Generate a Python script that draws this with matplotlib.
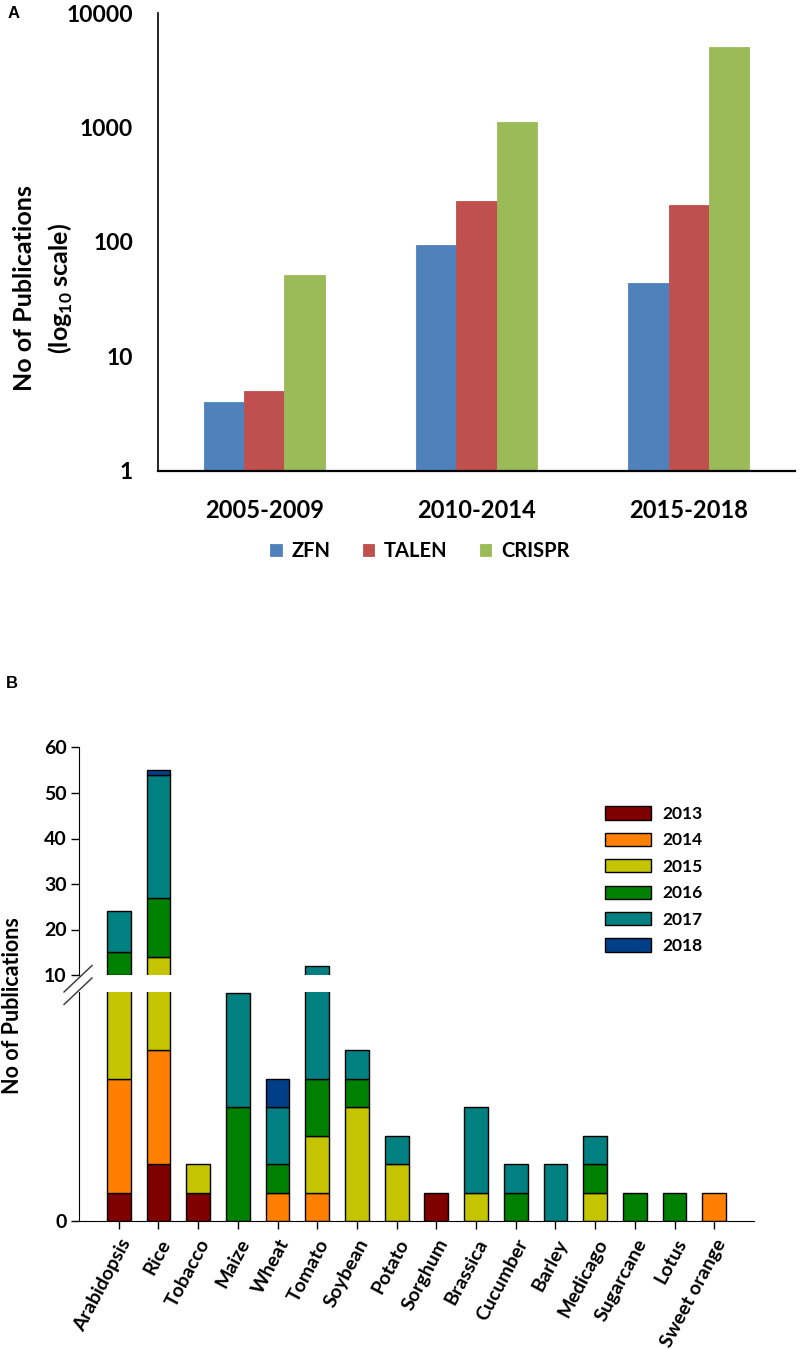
import matplotlib
matplotlib.use('Agg')
import matplotlib.pyplot as plt
from matplotlib.patches import Patch
from matplotlib.lines import Line2D
import numpy as np

plt.rcParams['font.family'] = ['Lato', 'DejaVu Sans']

# ---- panel A data
periods = ['2005-2009', '2010-2014', '2015-2018']
zfn = [4, 94, 44]
talen = [5, 229, 209]
crispr = [52, 1117, 5085]
methods = ['ZFN', 'TALEN', 'CRISPR']
method_colors = ['#4F81BD', '#C0504D', '#9BBB59']

# ---- panel B data
crops = ['Arabidopsis', 'Rice', 'Tobacco', 'Maize', 'Wheat', 'Tomato', 'Soybean', 'Potato',
         'Sorghum', 'Brassica', 'Cucumber', 'Barley', 'Medicago', 'Sugarcane', 'Lotus', 'Sweet orange']
years = ['2013', '2014', '2015', '2016', '2017', '2018']
y2013 = [1, 2, 1, 0, 0, 0, 0, 0, 1, 0, 0, 0, 0, 0, 0, 0]
y2014 = [4, 4, 0, 0, 1, 1, 0, 0, 0, 0, 0, 0, 0, 0, 0, 1]
y2015 = [5, 8, 1, 0, 0, 2, 4, 2, 0, 1, 0, 0, 1, 0, 0, 0]
y2016 = [5, 13, 0, 4, 1, 2, 1, 0, 0, 0, 1, 0, 1, 1, 1, 0]
y2017 = [9, 27, 0, 4, 2, 7, 1, 1, 0, 3, 1, 2, 1, 0, 0, 0]
y2018 = [0, 1, 0, 0, 1, 0, 0, 0, 0, 0, 0, 0, 0, 0, 0, 0]
year_colors = ['#800000', '#FF8000', '#C4C400', '#008000', '#008080', '#003F87']

W, H = 800, 1349
fig = plt.figure(figsize=(W / 100, H / 100), dpi=100)


def box(x0, y0, x1, y1):
    # pixel box (top-left origin) -> figure fraction rect
    return [x0 / W, 1 - y1 / H, (x1 - x0) / W, (y1 - y0) / H]


# ================= panel A
axA = fig.add_axes(box(158, 13, 795, 471))
x = np.arange(len(periods))
bw = 0.19
for i, (vals, c, lab) in enumerate(zip([zfn, talen, crispr], method_colors, methods)):
    axA.bar(x + (i - 1) * bw, vals, bw, color=c, edgecolor=c, linewidth=0.6, label=lab)
axA.set_yscale('log')
axA.set_ylim(1, 10000)
axA.set_xlim(-0.5, 2.5)
axA.set_yticks([1, 10, 100, 1000, 10000])
axA.set_yticklabels(['1', '10', '100', '1000', '10000'])
axA.minorticks_off()
axA.set_xticks(x)
axA.set_xticklabels(periods)
axA.tick_params(axis='y', length=0, pad=18, labelsize=16.5)
axA.tick_params(axis='x', length=0, pad=20, labelsize=17)
for t in axA.get_xticklabels() + axA.get_yticklabels():
    t.set_fontweight('bold')
axA.spines['top'].set_visible(False)
axA.spines['right'].set_visible(False)
axA.spines['left'].set_linewidth(1.2)
axA.spines['bottom'].set_linewidth(1.6)
fig.text(44 / W, 1 - 288 / H, 'No of Publications\n(log$_{\\mathregular{10}}$ scale)',
         rotation=90, ha='center', va='center', fontsize=18, fontweight='bold',
         linespacing=1.45)
fig.legend(*axA.get_legend_handles_labels(), loc='center', bbox_to_anchor=(420 / W, 1 - 551 / H),
           ncol=3, frameon=False, handlelength=0.55, handleheight=0.55, handletextpad=0.5,
           columnspacing=1.6, prop={'weight': 'bold', 'size': 14.5})
fig.text(8 / W, 1 - 13 / H, 'A', fontsize=12, fontweight='bold', family='Liberation Sans',
         ha='left', va='center')

# ================= panel B (broken axis)
axU = fig.add_axes(box(79, 747.5, 754, 975))
axL = fig.add_axes(box(79, 992, 754, 1221))
xb = np.arange(len(crops))
bwb = 0.6
stack = [y2013, y2014, y2015, y2016, y2017, y2018]
for ax in (axU, axL):
    bottom = np.zeros(len(crops))
    for vals, c, lab in zip(stack, year_colors, years):
        v = np.array(vals, dtype=float)
        m = v > 0
        ax.bar(xb[m], v[m], bwb, bottom=bottom[m], color=c, edgecolor='black', linewidth=1.0,
               label=lab)
        bottom += v
    ax.set_xlim(-1, 16)
    ax.spines['top'].set_visible(False)
    ax.spines['right'].set_visible(False)
    ax.tick_params(axis='y', length=6, width=1, labelsize=14, pad=3)

axU.set_ylim(10, 60)
axU.set_yticks([10, 20, 30, 40, 50, 60])
axU.set_yticklabels(['10', '20', '30', '40', '50', '60'], fontweight='bold')
axU.spines['bottom'].set_visible(False)
axU.set_xticks([])

axL.set_ylim(0, 8.05)
axL.set_yticks([0])
axL.set_yticklabels(['0'], fontweight='bold')
axL.set_xticks(xb)
axL.set_xticklabels(crops, rotation=62, ha='right', va='top', rotation_mode='anchor',
                    fontweight='bold', fontsize=14)
axL.tick_params(axis='x', length=6, width=1, pad=5)

# break marks
for y0 in (992, 1004.5):
    fig.add_artist(Line2D([64 / W, 92 / W], [1 - y0 / H, 1 - (y0 - 26.5) / H],
                          color='#333333', linewidth=1.0))

handles = [Patch(facecolor=c, edgecolor='black', linewidth=1.0) for c in year_colors]
fig.legend(handles, years, loc='upper left', bbox_to_anchor=(605 / W, 1 - 806 / H),
           frameon=False, borderpad=0, borderaxespad=0, handlelength=2.65, handleheight=0.8,
           handletextpad=0.65, labelspacing=0.6, prop={'weight': 'bold', 'size': 12.5})
fig.text(13 / W, 1 - 1006 / H, 'No of Publications', rotation=90, ha='center', va='center',
         fontsize=15.5, fontweight='bold')
fig.text(6 / W, 1 - 684 / H, 'B', fontsize=12, fontweight='bold', family='Liberation Sans',
         ha='left', va='center')

fig.savefig('out.png', dpi=100)
